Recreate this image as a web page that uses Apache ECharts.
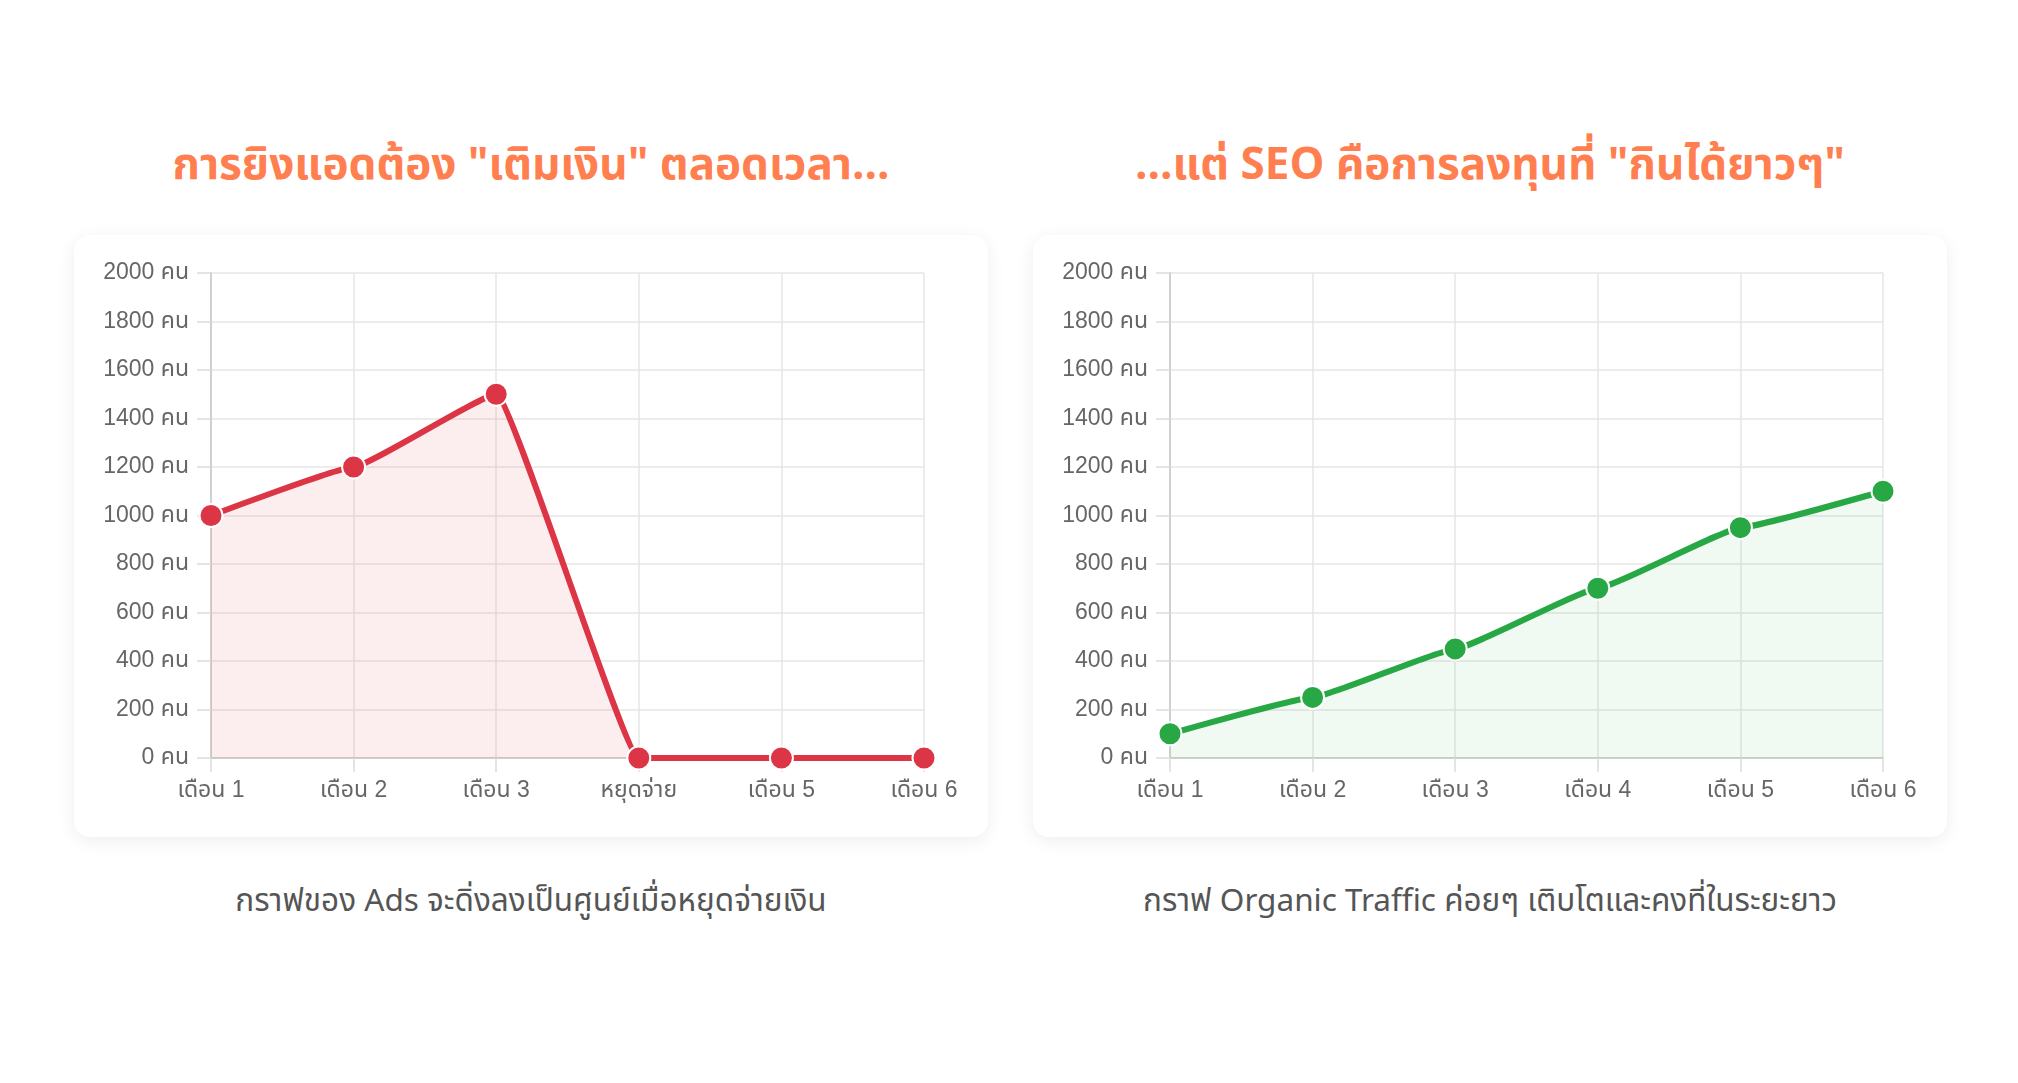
<!DOCTYPE html>
<html>
<head>
<meta charset="utf-8">
<script src="https://cdn.jsdelivr.net/npm/echarts@6/dist/echarts.min.js"></script>
<style>
    html, body {
        margin: 0;
        padding: 0;
        background: #fff;
        width: 2018px;
        height: 1083px;
        overflow: hidden;
        font-family: "Liberation Sans", "Noto Sans Thai", "Noto Sans", sans-serif;
    }
    .col {
        position: absolute;
        top: 0;
        width: 914px;
    }
    .title {
        position: absolute;
        top: 134px;
        left: 0;
        width: 100%;
        text-align: center;
        font-size: 44px;
        font-weight: bold;
        color: #ff7f50;
        line-height: 64px;
        font-family: "Noto Sans Thai", "Noto Sans", sans-serif;
    }
    .card {
        position: absolute;
        top: 235px;
        left: 0;
        width: 100%;
        height: 602px;
        background: #fff;
        border-radius: 16px;
        box-shadow: 0 4px 18px rgba(0, 0, 0, 0.07);
    }
    .chart {
        width: 100%;
        height: 100%;
    }
    .caption {
        position: absolute;
        top: 877px;
        left: 0;
        width: 100%;
        text-align: center;
        font-size: 31.5px;
        color: #555;
        line-height: 50px;
        font-family: "Noto Sans Thai", "Noto Sans", sans-serif;
    }
</style>
</head>
<body>
<div class="col" style="left:74px">
    <div class="title">การยิงแอดต้อง "เติมเงิน" ตลอดเวลา...</div>
    <div class="card"><div id="chartAds" class="chart"></div></div>
    <div class="caption">กราฟของ Ads จะดิ่งลงเป็นศูนย์เมื่อหยุดจ่ายเงิน</div>
</div>
<div class="col" style="left:1033px">
    <div class="title">...แต่ SEO คือการลงทุนที่ "กินได้ยาวๆ"</div>
    <div class="card"><div id="chartSeo" class="chart"></div></div>
    <div class="caption">กราฟ Organic Traffic ค่อยๆ เติบโตและคงที่ในระยะยาว</div>
</div>
<script>
// ข้อมูลกราฟ
var adsMonths = ['เดือน 1', 'เดือน 2', 'เดือน 3', 'หยุดจ่าย', 'เดือน 5', 'เดือน 6'];
var adsVisitors = [1000, 1200, 1500, 0, 0, 0];
var seoMonths = ['เดือน 1', 'เดือน 2', 'เดือน 3', 'เดือน 4', 'เดือน 5', 'เดือน 6'];
var seoVisitors = [100, 250, 450, 700, 950, 1100];
var yMin = 0, yMax = 2000, yStep = 200;

var fontFamily = '"Liberation Sans", "Noto Sans Thai", sans-serif';

function buildOption(months, values, color, fill) {
    return {
        animation: false,
        grid: {
            left: 137,
            right: 64,
            top: 38,
            bottom: 79
        },
        xAxis: {
            type: 'category',
            data: months,
            boundaryGap: false,
            axisLine: { show: true, lineStyle: { color: '#d0d0d0', width: 2 } },
            axisTick: { show: true, length: 14, lineStyle: { color: '#dcdcdc', width: 1.5 } },
            axisLabel: { color: '#666', fontSize: 23, margin: 21, fontFamily: fontFamily },
            splitLine: { show: true, lineStyle: { color: '#e6e6e6', width: 1.5 } }
        },
        yAxis: {
            type: 'value',
            min: yMin,
            max: yMax,
            interval: yStep,
            axisLine: { show: true, lineStyle: { color: '#d0d0d0', width: 2 } },
            axisTick: { show: true, length: 14, lineStyle: { color: '#dcdcdc', width: 1.5 } },
            axisLabel: {
                color: '#666',
                fontSize: 23,
                margin: 22,
                fontFamily: fontFamily,
                formatter: function(v) {
                    return v + ' คน';
                }
            },
            splitLine: { show: true, lineStyle: { color: '#e6e6e6', width: 1.5 } }
        },
        series: [{
            type: 'line',
            data: values,
            smooth: 0.1,
            smoothMonotone: 'x',
            symbol: 'circle',
            symbolSize: 23,
            lineStyle: { color: color, width: 6 },
            itemStyle: { color: color, borderColor: '#fff', borderWidth: 2 },
            areaStyle: { color: fill }
        }]
    };
}

var chartAds = echarts.init(document.getElementById('chartAds'));
chartAds.setOption(buildOption(adsMonths, adsVisitors, '#dc3545', 'rgba(220,53,69,0.12)'));

var chartSeo = echarts.init(document.getElementById('chartSeo'));
chartSeo.setOption(buildOption(seoMonths, seoVisitors, '#28a745', 'rgba(40,167,69,0.1)'));
</script>
</body>
</html>
